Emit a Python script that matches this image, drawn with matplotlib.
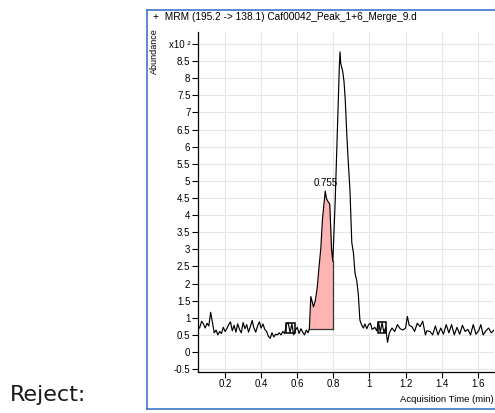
import matplotlib
matplotlib.use("Agg")
import matplotlib.pyplot as plt
from matplotlib.lines import Line2D
from matplotlib.patches import Rectangle

# ---- chromatogram: MRM (195.2 -> 138.1), abundance in units of 10^2 ----
time_min = [
    0.050, 0.060, 0.070, 0.080, 0.090, 0.100, 0.110, 0.120, 0.130, 0.140,
    0.150, 0.160, 0.170, 0.180, 0.190, 0.200, 0.210, 0.220, 0.230, 0.240,
    0.250, 0.260, 0.270, 0.280, 0.290, 0.300, 0.310, 0.320, 0.330, 0.340,
    0.350, 0.360, 0.370, 0.380, 0.390, 0.400, 0.410, 0.420, 0.430, 0.440,
    0.450, 0.460, 0.470, 0.480, 0.490, 0.500, 0.510, 0.520, 0.530, 0.540,
    0.550, 0.560, 0.570, 0.580, 0.590, 0.600, 0.610, 0.620, 0.630, 0.640,
    0.650, 0.660, 0.667, 0.675, 0.690, 0.700, 0.710, 0.720, 0.730, 0.740,
    0.755, 0.762, 0.770, 0.780, 0.790, 0.797, 0.810, 0.819, 0.828, 0.833,
    0.837, 0.841, 0.852, 0.859, 0.866, 0.874, 0.882, 0.892, 0.902, 0.911,
    0.920, 0.929, 0.938, 0.947, 0.956, 0.966, 0.975, 0.985, 0.995, 1.005,
    1.015, 1.030, 1.040, 1.050, 1.060, 1.070, 1.080, 1.090, 1.100, 1.110,
    1.125, 1.140, 1.155, 1.170, 1.185, 1.200, 1.210, 1.220, 1.235, 1.250,
    1.265, 1.280, 1.295, 1.310, 1.318, 1.335, 1.350, 1.365, 1.380, 1.395,
    1.410, 1.425, 1.440, 1.455, 1.470, 1.485, 1.500, 1.515, 1.530, 1.545,
    1.560, 1.575, 1.590, 1.605, 1.617, 1.630, 1.645, 1.660, 1.675, 1.690,
]
abundance = [
    0.66, 0.72, 0.90, 0.82, 0.70, 0.84, 0.76, 1.16, 0.86, 0.56,
    0.64, 0.50, 0.60, 0.54, 0.72, 0.60, 0.68, 0.80, 0.88, 0.62,
    0.78, 0.58, 0.82, 0.66, 0.56, 0.86, 0.68, 0.80, 0.58, 0.74,
    0.92, 0.70, 0.58, 0.76, 0.88, 0.70, 0.82, 0.66, 0.60, 0.46,
    0.40, 0.56, 0.44, 0.52, 0.50, 0.56, 0.50, 0.60, 0.54, 0.80,
    0.86, 0.56, 0.82, 0.50, 0.64, 0.72, 0.54, 0.68, 0.58, 0.50,
    0.64, 0.56, 0.68, 1.62, 1.32, 1.50, 1.85, 2.45, 3.00, 3.90,
    4.70, 4.48, 4.40, 4.32, 3.00, 2.65, 4.40, 5.90, 7.46, 8.34,
    8.77, 8.43, 8.19, 7.90, 7.36, 6.40, 5.60, 4.73, 3.20, 2.90,
    2.30, 2.10, 1.70, 0.93, 0.80, 0.70, 0.82, 0.68, 0.80, 0.84,
    0.66, 0.72, 0.62, 0.88, 0.58, 0.86, 0.56, 0.72, 0.28, 0.56,
    0.70, 0.60, 0.80, 0.68, 0.64, 0.70, 1.04, 0.78, 0.74, 0.60,
    0.84, 0.74, 0.90, 0.50, 0.62, 0.60, 0.50, 0.76, 0.50, 0.70,
    0.52, 0.80, 0.56, 0.80, 0.50, 0.72, 0.52, 0.78, 0.60, 0.66,
    0.50, 0.80, 0.52, 0.62, 0.80, 0.50, 0.62, 0.70, 0.56, 0.64,
]

# integrated peak (start, end, baseline level) and its retention time
integ_start, integ_end, integ_base = 0.667, 0.797, 0.66
peak_rt = 0.755
peak_height = 4.70

# noise-region markers: (t0, t1, y0, y1)
noise_boxes = [(0.540, 0.585, 0.56, 0.86), (1.045, 1.090, 0.56, 0.88)]

title = "+  MRM (195.2 -> 138.1) Caf00042_Peak_1+6_Merge_9.d"
x_ticks = [0.2, 0.4, 0.6, 0.8, 1.0, 1.2, 1.4, 1.6]
y_ticks = [-0.5, 0, 0.5, 1, 1.5, 2, 2.5, 3, 3.5, 4, 4.5, 5, 5.5, 6, 6.5, 7,
           7.5, 8, 8.5, 9]

FONT = "Liberation Sans"
W, H = 495, 413

fig = plt.figure(figsize=(W / 100, H / 100), dpi=100)
fig.patch.set_facecolor("white")

# "Reject:" caption on the left
fig.text(10 / W, 1 - 395 / H, "Reject:", family="DejaVu Sans", fontsize=16,
         color="#1a1a1a", ha="left", va="center")

# blue frame around the chromatogram panel
frame_col = "#3f74c9"
fl, ft, fb = 146.5 / W, 1 - 9.5 / H, 1 - 408.5 / H
for xs, ys in [([fl, 1.02], [ft, ft]), ([fl, fl], [ft, fb]), ([fl, 1.02], [fb, fb])]:
    fig.add_artist(Line2D(xs, ys, color=frame_col, lw=1.2, transform=fig.transFigure))

fig.text(153 / W, 1 - 17 / H, title, family=FONT, fontsize=7.3, ha="left",
         va="center", color="black")

ax = fig.add_axes([198 / W, 1 - 371.5 / H, (494 - 198) / W, (371.5 - 32) / H])
ax.set_xlim(0.05, 1.69)
ax.set_ylim(-0.57, 9.35)

for s in ("top", "right"):
    ax.spines[s].set_visible(False)
for s in ("left", "bottom"):
    ax.spines[s].set_color("black")
    ax.spines[s].set_linewidth(0.9)

ax.set_xticks(x_ticks)
ax.set_xticklabels([f"{v:g}" for v in x_ticks])
ax.set_yticks(y_ticks)
ax.set_yticklabels([f"{v:g}" for v in y_ticks[:-1]] + ["x10 \u00b2"])
ax.tick_params(axis="both", direction="out", length=4, width=0.8,
               colors="black", labelsize=7, pad=1.5)
for lab in ax.get_xticklabels() + ax.get_yticklabels():
    lab.set_family(FONT)

ax.grid(True, color="#e6e6e6", lw=0.8)
ax.set_axisbelow(True)

# integrated area
seg_t = [t for t in time_min if integ_start <= t <= integ_end]
seg_y = [a for t, a in zip(time_min, abundance) if integ_start <= t <= integ_end]
ax.fill_between(seg_t, seg_y, integ_base, color="#ffb3b3", lw=0, zorder=2)
ax.plot([integ_start, integ_end], [integ_base, integ_base], color="#333333",
        lw=0.9, zorder=3)
ax.plot([integ_start, integ_start], [integ_base, seg_y[0]], color="#333333",
        lw=0.9, zorder=3)
ax.plot([integ_end, integ_end], [integ_base, seg_y[-1]], color="#333333",
        lw=0.9, zorder=3)

ax.plot(time_min, abundance, color="black", lw=0.85, zorder=4)

for t0, t1, y0, y1 in noise_boxes:
    ax.add_patch(Rectangle((t0, y0), t1 - t0, y1 - y0, fill=False,
                           edgecolor="black", lw=1.1, zorder=5))

ax.text(peak_rt, peak_height + 0.1, f"{peak_rt:g}", family=FONT, fontsize=7,
        ha="center", va="bottom", color="black", zorder=6)

fig.text(154 / W, 1 - 28 / H, "Abundance", family=FONT, fontsize=6.5,
         rotation=90, ha="center", va="top")
fig.text(494 / W, 1 - 400 / H, "Acquisition Time (min)", family=FONT,
         fontsize=6.8, ha="right", va="center")

fig.savefig("out.png", dpi=100)
